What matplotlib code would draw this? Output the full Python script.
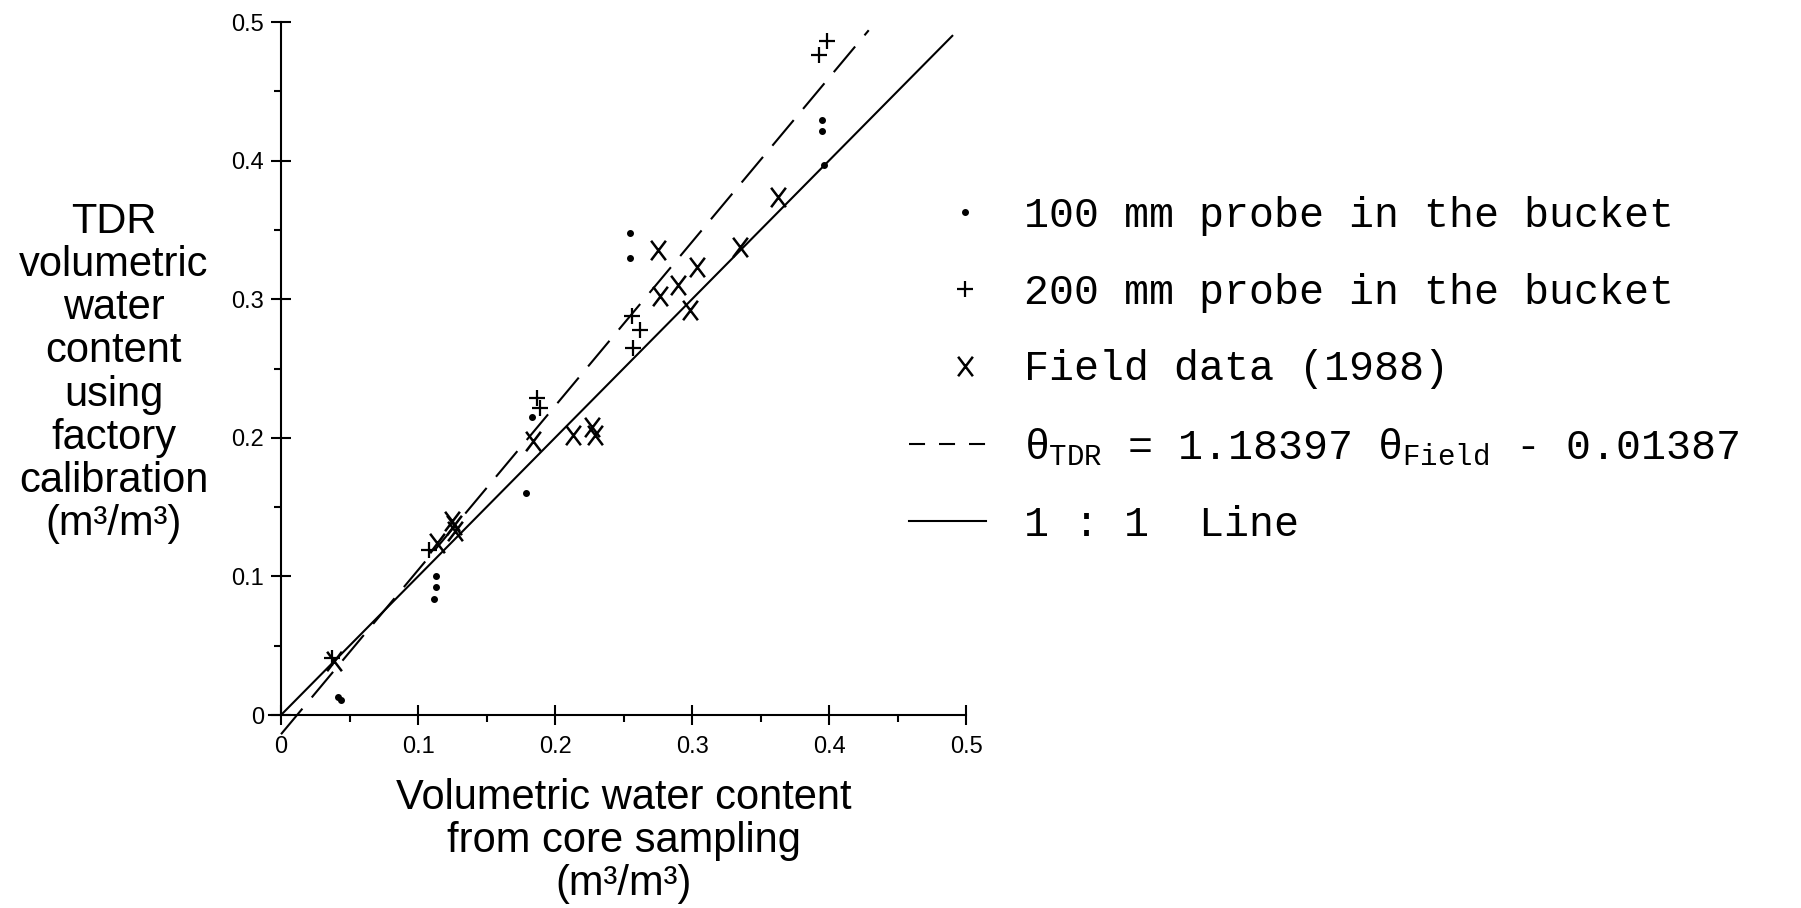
import matplotlib
matplotlib.use("Agg")
import matplotlib.pyplot as plt
from matplotlib.path import Path
from matplotlib.lines import Line2D
from matplotlib.legend_handler import HandlerLine2D
from matplotlib.ticker import MultipleLocator

plt.rcParams['font.family'] = 'Liberation Sans'
plt.rcParams['mathtext.fontset'] = 'custom'
plt.rcParams['mathtext.rm'] = 'Liberation Mono'
plt.rcParams['mathtext.it'] = 'Liberation Mono'
plt.rcParams['mathtext.tt'] = 'Liberation Mono'

# 100 mm probe in the bucket (dots)
probe100_x = [0.0415, 0.044, 0.113, 0.113, 0.112, 0.179, 0.183, 0.2547, 0.2547, 0.395, 0.395, 0.396]
probe100_y = [0.013, 0.011, 0.100, 0.092, 0.084, 0.160, 0.215, 0.348, 0.330, 0.429, 0.421, 0.397]

# 200 mm probe in the bucket (pluses)
probe200_x = [0.037, 0.108, 0.1866, 0.189, 0.256, 0.262, 0.2567, 0.3985, 0.393]
probe200_y = [0.041, 0.119, 0.2284, 0.2213, 0.288, 0.278, 0.2645, 0.486, 0.476]

# field data 1988 (X)
field_x = [0.039, 0.114, 0.126, 0.127, 0.125, 0.184, 0.2134, 0.227, 0.229,
           0.2754, 0.2766, 0.290, 0.2985, 0.3034, 0.335, 0.363]
field_y = [0.039, 0.124, 0.137, 0.133, 0.140, 0.198, 0.202, 0.208, 0.202,
           0.3355, 0.302, 0.310, 0.292, 0.3234, 0.338, 0.374]

# regression and 1:1 line
slope = 1.18397
intercept = -0.01387
fit_x = [0.0, 0.429]
one_x = [0.0, 0.49]

fit_y = [slope * v + intercept for v in fit_x]


class ShiftedMarker(HandlerLine2D):
    # legend markers sit a bit right of the handle centre in the original
    def create_artists(self, legend, orig_handle, xdescent, ydescent, width, height, fontsize, trans):
        arts = super().create_artists(legend, orig_handle, xdescent, ydescent, width, height, fontsize, trans)
        for a in arts:
            a.set_xdata([v + 0.22 * width for v in a.get_xdata()])
        return arts


fig = plt.figure(figsize=(18.01, 9.08), dpi=100)
ax = fig.add_axes([268.7 / 1801, 193 / 908, 697.3 / 1801, 693 / 908])

h_fit, = ax.plot(fit_x, fit_y, color='black', lw=1.5, dashes=(16, 7), clip_on=False)
h_one, = ax.plot(one_x, one_x, color='black', lw=1.5, clip_on=False)

x_marker = Path([(-0.38, -0.5), (0.38, 0.5), (-0.38, 0.5), (0.38, -0.5)],
                [Path.MOVETO, Path.LINETO, Path.MOVETO, Path.LINETO])

h_dot, = ax.plot(probe100_x, probe100_y, linestyle='none', marker='o', ms=4,
                 color='black', clip_on=False)
h_plus, = ax.plot(probe200_x, probe200_y, linestyle='none', marker='+', ms=11,
                  mew=1.6, color='black', clip_on=False)
h_x, = ax.plot(field_x, field_y, linestyle='none', marker=x_marker, ms=14,
               mew=1.8, mfc='none', mec='black', clip_on=False)

ax.set_xlim(-0.009, 0.5)
ax.set_ylim(0, 0.5)
ax.spines['top'].set_visible(False)
ax.spines['right'].set_visible(False)
ax.spines['left'].set_position(('data', 0))
ax.spines['left'].set_linewidth(1.5)
ax.spines['bottom'].set_linewidth(1.5)

ax.xaxis.set_minor_locator(MultipleLocator(0.05))
ax.yaxis.set_minor_locator(MultipleLocator(0.05))
ticks = [0, 0.1, 0.2, 0.3, 0.4, 0.5]
tick_labels = ['0', '0.1', '0.2', '0.3', '0.4', '0.5']
ax.set_xticks(ticks)
ax.set_xticklabels(tick_labels)
ax.set_yticks(ticks)
ax.set_yticklabels(tick_labels)
ax.tick_params(which='major', direction='inout', length=14, width=1.5, labelsize=17)
ax.tick_params(axis='x', which='major', pad=8)
ax.tick_params(axis='y', which='major', pad=5)
ax.tick_params(which='minor', direction='out', length=5, width=1.5)

ax.set_xlabel('Volumetric water content\nfrom core sampling\n(m³/m³)', fontsize=30,
              linespacing=1.1, ha='center', va='top')
ax.xaxis.set_label_coords(0.5095, -0.091)
ax.set_ylabel('TDR\nvolumetric\nwater\ncontent\nusing\nfactory\ncalibration\n(m³/m³)',
              fontsize=30, rotation=0, linespacing=1.1, ha='center', va='center')
ax.yaxis.set_label_coords(-0.222, 0.4935)

dash_proxy = Line2D([], [], color='black', lw=1.5, dashes=(7.7, 6.7))
labels = ['100 mm probe in the bucket',
          '200 mm probe in the bucket',
          'Field data (1988)',
          r'$\theta_{\mathrm{TDR}}$ = 1.18397 $\theta_{\mathrm{Field}}$ - 0.01387',
          '1 : 1  Line']
shift = ShiftedMarker(numpoints=1)
ax.legend([h_dot, h_plus, h_x, dash_proxy, h_one], labels, loc='upper left',
          bbox_to_anchor=(909 / 1801, 1 - 196 / 908), bbox_transform=fig.transFigure,
          frameon=False, prop={'family': 'Liberation Mono', 'size': 30},
          handlelength=1.85, handletextpad=0.9, labelspacing=0.88,
          borderpad=0, borderaxespad=0, numpoints=1,
          handler_map={h_dot: shift, h_plus: shift, h_x: shift})

plt.savefig('out.png', dpi=100)
